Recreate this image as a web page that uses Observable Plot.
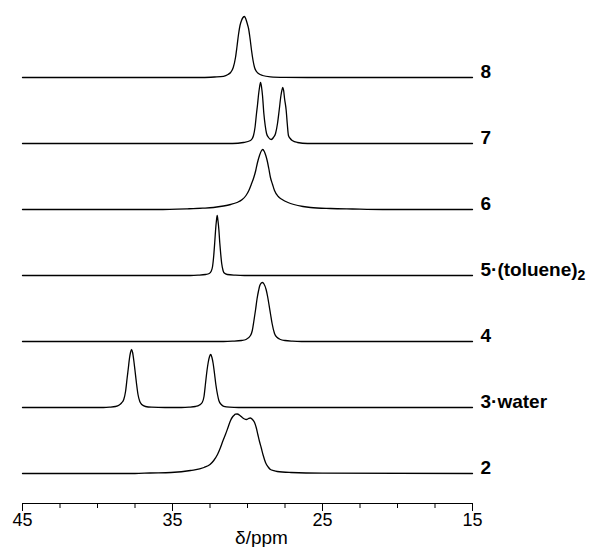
<!DOCTYPE html>
<html><head><meta charset="utf-8">
<script src="https://cdn.jsdelivr.net/npm/d3@7"></script>
<script src="https://cdn.jsdelivr.net/npm/@observablehq/plot@0.6"></script>
<style>body{margin:0;background:#fff} #chart{width:594px;height:547px}</style>
</head><body><div id="chart"></div>
<script>
// Spectrum labels (bottom to top) and their stacking offsets
const labels = ["2", "3·water", "4", "5·(toluene)", "6", "7", "8"];
const offsets = [0, 66, 132, 198, 264, 330, 396];
// Axis ticks (ppm)
const majorTicks = [45, 35, 25, 15];
const minorTicks = [42.5, 40, 37.5, 32.5, 30, 27.5, 22.5, 20, 17.5];
const axisTitle = "δ/ppm";

// Spectra: [ppm, intensity]
const spec2 = [[45,0],[37.5,0],[36.5,0.5],[35.1,1],[33.8,3],[32.9,6],[32.5,9],[32.25,13],[32.0,19],[31.8,26],[31.63,33],[31.47,39],[31.3,46],[31.13,53],[31.0,56.5],[30.91,58],[30.8,59.3],[30.69,59.5],[30.5,58],[30.35,56],[30.2,54.5],[30.07,54],[29.93,55],[29.8,55.5],[29.67,54],[29.53,51],[29.42,46],[29.31,39],[29.2,32],[29.09,26],[28.95,18],[28.8,11],[28.62,6.5],[28.47,4],[28.25,2.8],[28.02,2],[27.1,1],[25,0.3],[15,0]];
const spec3 = [[45,0],[39.6,0],[39.2,0.3],[38.8,1],[38.55,2.5],[38.4,4.5],[38.25,8],[38.13,16],[38.02,30],[37.94,40],[37.87,49],[37.8,55],[37.73,58],[37.66,55],[37.58,47],[37.5,37],[37.4,24],[37.3,13],[37.18,6],[37.05,3],[36.8,1],[36.4,0.3],[35.5,0],[34.4,0],[33.9,0.3],[33.47,1],[33.2,2.5],[33.02,5],[32.9,11],[32.8,24],[32.7,37],[32.62,45],[32.53,51],[32.45,53],[32.37,50],[32.29,44],[32.2,34],[32.11,23],[32.0,13],[31.91,7],[31.75,3],[31.58,1.2],[31.2,0.3],[30.6,0],[15,0]];
const spec4 = [[45,0],[31.6,0],[31,0.3],[30.4,1],[30.1,2],[29.8,6],[29.68,11],[29.58,20],[29.46,32],[29.36,43],[29.26,51],[29.18,56],[29.08,58.5],[29.0,59],[28.9,57.5],[28.76,52],[28.66,45],[28.58,38],[28.46,27],[28.36,18],[28.2,8],[28.02,4],[27.8,2],[27.5,1],[27,0.3],[26.4,0],[15,0]];
const spec5 = [[45,0],[33.8,0],[33.3,0.3],[32.8,1],[32.55,2],[32.43,4],[32.33,9],[32.25,20],[32.18,34],[32.13,45],[32.07,55],[32.02,60],[31.97,55],[31.91,46],[31.85,33],[31.8,24],[31.72,12],[31.63,5],[31.55,2.5],[31.35,1],[30.8,0.3],[30.2,0],[15,0]];
const spec6 = [[45,0],[36,0],[34,0.7],[33,1.3],[32.27,2],[31.6,3.5],[31.13,5],[30.7,7],[30.35,10],[30.1,14],[29.91,19],[29.75,25],[29.58,32],[29.45,39],[29.35,46],[29.2,54],[29.08,58.5],[28.98,60],[28.88,58],[28.78,54],[28.69,49],[28.58,41],[28.47,32],[28.33,25],[28.2,19],[27.95,13],[27.69,10],[27.3,7],[26.91,5],[26.3,3],[25.8,2],[24.47,1],[23,0.5],[21,0],[15,0]];
const spec7 = [[45,0],[31,0],[30.27,1],[29.8,3],[29.68,5],[29.6,8],[29.5,16],[29.4,30],[29.33,39],[29.27,48],[29.2,56],[29.13,61],[29.06,56],[29.0,48],[28.91,30],[28.82,18],[28.73,10],[28.6,6],[28.42,4],[28.27,6],[28.13,10],[28.0,20],[27.89,33],[27.77,48],[27.71,53],[27.65,56],[27.59,53],[27.53,45],[27.42,33],[27.35,20],[27.27,8],[27.15,5],[27.02,3],[26.67,1],[26,0],[15,0]];
const spec8 = [[45,0],[33,0],[32.2,0.5],[31.6,1.2],[31.3,3],[31.13,5],[30.95,10],[30.8,20],[30.7,31],[30.6,43],[30.5,52],[30.4,57],[30.3,60],[30.2,61],[30.1,58],[30.0,53],[29.93,49],[29.83,39],[29.73,27],[29.63,17],[29.53,10],[29.4,6],[29.27,4],[29.0,2],[28.47,0.7],[27.5,0.2],[26,0],[15,0]];

const spectra = [spec2, spec3, spec4, spec5, spec6, spec7, spec8];

const rows = [];
spectra.forEach((s, i) => {
  s.slice().sort((a, b) => b[0] - a[0]).forEach(([ppm, v]) => rows.push({id: i, ppm, y: offsets[i] + v}));
});
const labelRows = labels.map((t, i) => ({text: t, y: offsets[i]}));

const chart = Plot.plot({
  width: 594,
  height: 547,
  marginLeft: 22,
  marginRight: 122,
  marginTop: 0,
  marginBottom: 44,
  style: {fontFamily: "Liberation Sans, Arial, Helvetica, sans-serif", background: "#fff", color: "#000"},
  x: {domain: [45, 15]},
  y: {domain: [-30, 473], axis: null},
  marks: [
    Plot.ruleY([-30], {stroke: "#000", strokeWidth: 1.2}),
    Plot.axisX({ticks: minorTicks, tickSize: 5, tickFormat: () => "", label: null, stroke: "#000"}),
    Plot.axisX({ticks: majorTicks, tickSize: 8, tickPadding: 2, fontSize: 18, label: null, stroke: "#000", fill: "#000"}),
    Plot.line(rows, {x: "ppm", y: "y", z: "id", curve: "monotone-x", stroke: "#000", strokeWidth: 1.3}),
    Plot.text(labelRows, {x: () => 15, y: "y", text: "text", dx: 8, textAnchor: "start", lineAnchor: "bottom", fontWeight: "bold", fontSize: 19, fill: "#000"}),
    Plot.text([axisTitle], {frameAnchor: "bottom", dx: 14, dy: 40, lineAnchor: "bottom", fontSize: 19, fill: "#000"})
  ]
});
document.getElementById("chart").appendChild(chart);

// subscript 2 for the toluene label
d3.select(chart).selectAll("text").filter(function() { return this.textContent === "5·(toluene)"; })
  .append("tspan").attr("font-size", 14).attr("dy", "0.35em").text("2");
</script>
</body></html>
